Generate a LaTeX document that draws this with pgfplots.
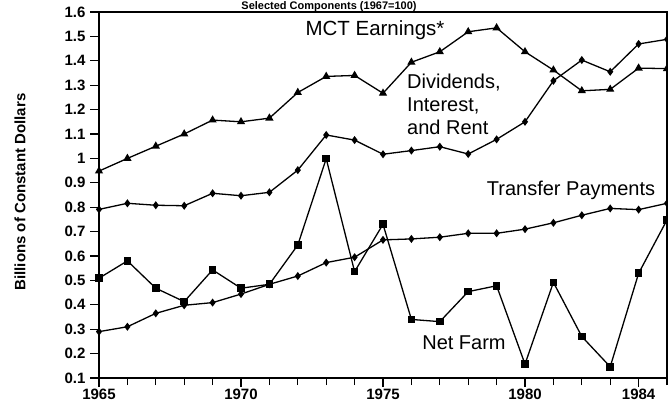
\documentclass[border=0pt]{standalone}
\usepackage{fontspec}
\setmainfont{Liberation Sans}
\usepackage{pgfplots}
\pgfplotsset{compat=1.18}
\begin{document}
\begin{tikzpicture}[x=1pt,y=1pt]
\begin{axis}[
  at={(99pt,24pt)}, anchor=south west,
  scale only axis, width=568pt, height=366pt,
  xmin=1965, xmax=1985, ymin=0.1, ymax=1.6,
  xtick={1965,1970,1975,1980,1984},
  xticklabels={1965,1970,1975,1980,1984},
  minor xtick={1966,1967,1968,1969,1971,1972,1973,1974,1976,1977,1978,1979,1981,1982,1983,1985},
  ytick={0.1,0.2,0.3,0.4,0.5,0.6,0.7,0.8,0.9,1.0,1.1,1.2,1.3,1.4,1.5,1.6},
  yticklabels={0.1,0.2,0.3,0.4,0.5,0.6,0.7,0.8,0.9,1,1.1,1.2,1.3,1.4,1.5,1.6},
  tick align=outside, major tick length=9pt, minor tick length=7pt,
  xtick pos=bottom, ytick pos=left,
  tick style={line width=1.3pt, black},
  axis line style={line width=1.4pt},
  /pgf/number format/assume math mode=true,
  ticklabel style={font=\fontsize{15}{17}\selectfont\bfseries},
  yticklabel style={xshift=-1pt},
  xticklabel style={yshift=2pt},
  every axis plot/.append style={line width=1.3pt, black},
]
% MCT Earnings
\addplot[mark=triangle*, mark size=3.5pt] coordinates {
(1965,0.948)(1966,1.000)(1967,1.050)(1968,1.100)(1969,1.157)(1970,1.150)
(1971,1.165)(1972,1.270)(1973,1.336)(1974,1.340)(1975,1.267)(1976,1.394)
(1977,1.437)(1978,1.519)(1979,1.535)(1980,1.437)(1981,1.362)(1982,1.277)
(1983,1.283)(1984,1.370)(1985,1.368)};
% Dividends, Interest, and Rent
\addplot[mark=diamond*, mark size=3pt] coordinates {
(1965,0.791)(1966,0.816)(1967,0.808)(1968,0.806)(1969,0.857)(1970,0.847)
(1971,0.861)(1972,0.952)(1973,1.096)(1974,1.075)(1975,1.017)(1976,1.032)
(1977,1.048)(1978,1.018)(1979,1.078)(1980,1.150)(1981,1.318)(1982,1.403)
(1983,1.355)(1984,1.469)(1985,1.488)};
% Transfer Payments
\addplot[mark=diamond*, mark size=3pt] coordinates {
(1965,0.290)(1966,0.310)(1967,0.365)(1968,0.398)(1969,0.409)(1970,0.444)
(1971,0.484)(1972,0.518)(1973,0.573)(1974,0.595)(1975,0.666)(1976,0.670)
(1977,0.677)(1978,0.693)(1979,0.693)(1980,0.710)(1981,0.736)(1982,0.767)
(1983,0.795)(1984,0.790)(1985,0.816)};
% Net Farm
\addplot[mark=square*, mark size=3.2pt] coordinates {
(1965,0.509)(1966,0.580)(1967,0.468)(1968,0.413)(1969,0.543)(1970,0.468)
(1971,0.484)(1972,0.645)(1973,0.999)(1974,0.536)(1975,0.730)(1976,0.340)
(1977,0.331)(1978,0.454)(1979,0.478)(1980,0.157)(1981,0.492)(1982,0.270)
(1983,0.146)(1984,0.529)(1985,0.748)};
\end{axis}
\node[anchor=base, font=\fontsize{11}{13}\selectfont\bfseries] at (329pt,392.5pt) {Selected Components (1967=100)};
\node[rotate=90, font=\fontsize{15}{17}\selectfont\bfseries] at (20pt,210pt) {Billions of Constant Dollars};
\node[font=\fontsize{20.5}{23}\selectfont] at (375pt,372pt) {MCT Earnings*};
\node[anchor=north west, align=left, font=\fontsize{20}{23}\selectfont, inner sep=0pt] at (407pt,328pt) {Dividends,\\Interest,\\and Rent};
\node[font=\fontsize{20}{23}\selectfont] at (571pt,212pt) {Transfer Payments};
\node[font=\fontsize{20}{23}\selectfont] at (464pt,59pt) {Net Farm};
\pgfresetboundingbox
\useasboundingbox (0pt,0pt) rectangle (668pt,402pt);
\end{tikzpicture}
\end{document}
